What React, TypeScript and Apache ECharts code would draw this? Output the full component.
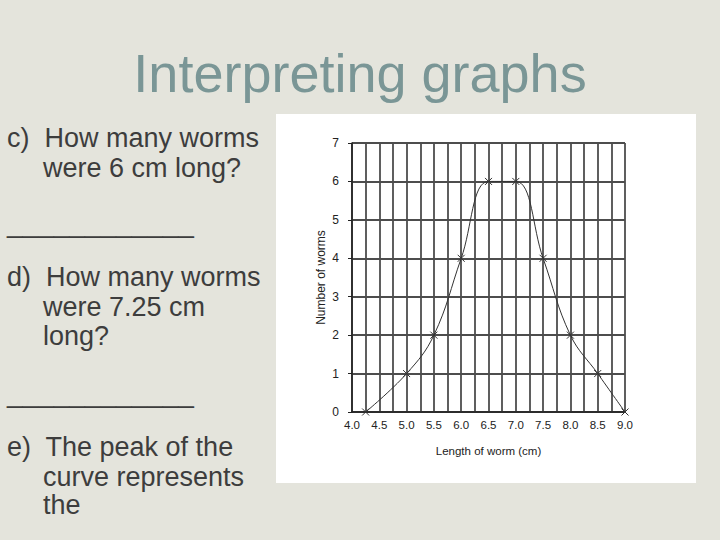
import { useEffect, useRef } from 'react'
import * as echarts from 'echarts'

// worm lengths (cm) and how many worms had each length
const lengths = [4.25, 5.0, 5.5, 6.0, 6.5, 7.0, 7.5, 8.0, 8.5, 9.0]
const worms = [0, 1, 2, 4, 6, 6, 4, 2, 1, 0]

const TITLE = 'Interpreting graphs'
const QUESTION_LINES = [
  'c)  How many worms',
  'were 6 cm long?',
  '____________',
  'd)  How many worms',
  'were 7.25 cm',
  'long?',
  '____________',
  'e)  The peak of the',
  'curve represents',
  'the',
]

const FONT = '"Liberation Sans", Arial, Helvetica, sans-serif'
const TEXT = '#3d3d3d'
const GRID_LINE = { color: '#4d4d4d', width: 1.8 }

export default function App() {
  const ref = useRef<HTMLDivElement>(null)

  useEffect(() => {
    if (!ref.current) return
    const chart = echarts.init(ref.current, null, { renderer: 'svg' })

    // x, baseline-centred y for each text line on the left
    const linePos: [number, number][] = [
      [7, 137.6],
      [43, 167.6],
      [7, 222.2],
      [7, 277.3],
      [43, 306.6],
      [43, 335.6],
      [7, 392.2],
      [7, 447.3],
      [43, 476.6],
      [43, 504.6],
    ]

    chart.setOption({
      animation: false,
      backgroundColor: '#e4e4dc',
      textStyle: { fontFamily: FONT },
      graphic: [
        {
          type: 'rect',
          z: -10,
          shape: { x: 276, y: 114, width: 420, height: 369 },
          style: { fill: '#fff' },
        },
        {
          type: 'text',
          x: 360,
          y: 73,
          style: {
            text: TITLE,
            fill: '#7a9696',
            fontSize: 54,
            fontFamily: FONT,
            textAlign: 'center',
            textVerticalAlign: 'middle',
          },
        },
        ...QUESTION_LINES.map((t, i) => ({
          type: 'text',
          x: linePos[i][0],
          y: linePos[i][1],
          style: {
            text: t,
            fill: TEXT,
            fontSize: t.startsWith('_') ? 28 : 27,
            fontFamily: FONT,
            textAlign: 'left',
            textVerticalAlign: 'middle',
          },
        })),
      ],
      grid: { left: 352, right: 95, top: 143, bottom: 128 },
      xAxis: {
        type: 'value',
        min: 4,
        max: 9,
        interval: 0.5,
        name: 'Length of worm (cm)',
        nameLocation: 'middle',
        nameGap: 33,
        nameTextStyle: { color: '#222', fontSize: 11.5, fontFamily: FONT },
        axisLine: { show: true, lineStyle: { color: '#222', width: 1.5 } },
        axisTick: { show: false },
        axisLabel: {
          color: '#222',
          fontSize: 11.5,
          margin: 7,
          formatter: (v: number) => v.toFixed(1),
        },
        splitLine: { show: true, lineStyle: GRID_LINE },
        minorTick: { show: false, splitNumber: 2 },
        minorSplitLine: { show: true, lineStyle: GRID_LINE },
      },
      yAxis: {
        type: 'value',
        min: 0,
        max: 7,
        interval: 1,
        name: 'Number of worms',
        nameLocation: 'middle',
        nameGap: 25,
        nameTextStyle: { color: '#222', fontSize: 12, fontFamily: FONT },
        axisLine: { show: true, lineStyle: { color: '#222', width: 1.5 } },
        axisTick: { show: true, length: 4, lineStyle: { color: '#222' } },
        axisLabel: { color: '#222', fontSize: 12, margin: 13 },
        splitLine: { show: true, lineStyle: GRID_LINE },
      },
      series: [
        {
          type: 'line',
          silent: true,
          smooth: 0.4,
          data: lengths.map((x, i) => [x, worms[i]]),
          symbol: 'path://M0,0L10,10M10,0L0,10',
          symbolSize: 7,
          lineStyle: { color: '#333', width: 1 },
          itemStyle: { color: 'none', borderColor: '#333', borderWidth: 1 },
        },
      ],
    })

    return () => chart.dispose()
  }, [])

  return (
    <div
      ref={ref}
      style={{ position: 'fixed', left: 0, top: 0, width: 720, height: 540 }}
    />
  )
}
